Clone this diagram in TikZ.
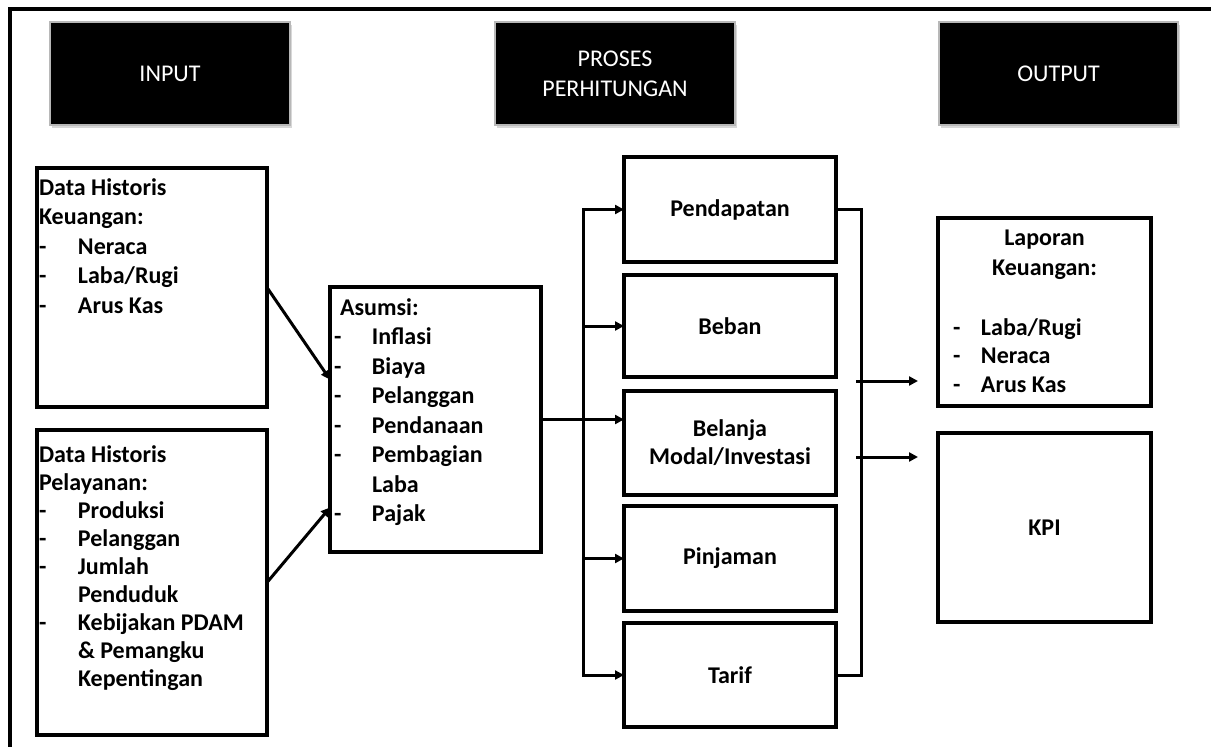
\documentclass[tikz,border=0pt]{standalone}
\usepackage{fontspec}
\setmainfont{Carlito}
\usetikzlibrary{arrows.meta,shadows,calc}

% list helpers: a dash in a fixed-width slot, and an indented continuation line
\newcommand\dashitem[2][39pt]{\makebox[#1][l]{-}#2}
\newcommand\contitem[2][39pt]{\hspace*{#1}#2}

\tikzset{
  x=1pt, y=-1pt,
  hdr/.style={draw=white!72!black, line width=1.2pt, fill=black, text=white,
    anchor=north west, align=center, inner sep=0pt, outer sep=0pt,
    font=\fontsize{24}{30}\selectfont,
    drop shadow={shadow xshift=1.5pt, shadow yshift=-3pt, opacity=0.3}},
  box/.style={draw=black, line width=3.4pt, fill=white, anchor=north west,
    inner sep=0pt, outer sep=0pt, align=center,
    font=\bfseries\fontsize{24}{28}\selectfont},
  txt/.style={anchor=base west, inner sep=0pt, outer sep=0pt},
  arr/.style={line width=3pt, -{Triangle[length=9pt,width=9pt]}},
  ln/.style={line width=3pt},
}

\begin{document}
\begin{tikzpicture}
\useasboundingbox (0,0) rectangle (1211,747);
\fill[white] (0,0) rectangle (1211,747);

% outer frame (top and left edges)
\draw[line width=4pt] (10,747) -- (10,9) -- (1211,9);

% column headers
\node[hdr, minimum width=240pt, minimum height=103pt] (hin)  at (50,22)  {INPUT};
\node[hdr, minimum width=240pt, minimum height=103pt] (hpro) at (495,22) {PROSES\\PERHITUNGAN};
\node[hdr, minimum width=239pt, minimum height=103pt] (hout) at (939,22) {OUTPUT};

% input boxes
\node[box, minimum width=230pt, minimum height=239pt] (histk) at (37,168) {};
\node[box, minimum width=230pt, minimum height=305pt] (histp) at (37,430) {};
\node[txt, font=\bfseries\fontsize{24}{29.5}\selectfont] (histkt) at (39,195) {%
  \begin{tabular}[t]{@{}l@{}}
  Data Historis\\
  Keuangan:\\
  \dashitem{Neraca}\\
  \dashitem{Laba/Rugi}\\
  \dashitem{Arus Kas}
  \end{tabular}};
\node[txt, font=\bfseries\fontsize{24}{28.1}\selectfont] (histpt) at (39,462) {%
  \begin{tabular}[t]{@{}l@{}}
  Data Historis\\
  Pelayanan:\\
  \dashitem{Produksi}\\
  \dashitem{Pelanggan}\\
  \dashitem{Jumlah}\\
  \contitem{Penduduk}\\
  \dashitem{Kebijakan PDAM}\\
  \contitem{\& Pemangku}\\
  \contitem{Kepentingan}
  \end{tabular}};

% assumptions
\node[box, minimum width=211pt, minimum height=265pt] (asumsi) at (330,287) {};
\node[txt, font=\bfseries\fontsize{24}{29.5}\selectfont] (asumsit) at (334,315) {%
  \begin{tabular}[t]{@{}l@{}}
  \hspace*{6pt}Asumsi:\\
  \dashitem[38pt]{Inflasi}\\
  \dashitem[38pt]{Biaya}\\
  \dashitem[38pt]{Pelanggan}\\
  \dashitem[38pt]{Pendanaan}\\
  \dashitem[38pt]{Pembagian}\\
  \contitem[38pt]{Laba}\\
  \dashitem[38pt]{Pajak}
  \end{tabular}};

% calculation blocks
\node[box, minimum width=212pt, minimum height=105pt] (pend)    at (624,157) {Pendapatan};
\node[box, minimum width=212pt, minimum height=102pt] (beban)   at (624,275) {Beban};
\node[box, minimum width=212pt, minimum height=104pt] (belanja) at (624,391) {Belanja\\Modal/Investasi};
\node[box, minimum width=212pt, minimum height=105pt] (pinj)    at (624,506) {Pinjaman};
\node[box, minimum width=212pt, minimum height=104pt] (tarif)   at (624,623) {Tarif};

% outputs
\node[box, minimum width=213pt, minimum height=188pt] (lap) at (938,218) {};
\node[txt, anchor=base, font=\bfseries\fontsize{24}{30}\selectfont] (lapt) at (1044.5,245)
  {\begin{tabular}[t]{@{}c@{}}Laporan\\Keuangan:\end{tabular}};
\node[txt, font=\bfseries\fontsize{24}{28.5}\selectfont] (lapl) at (953,335) {%
  \begin{tabular}[t]{@{}l@{}}
  \dashitem[28pt]{Laba/Rugi}\\
  \dashitem[28pt]{Neraca}\\
  \dashitem[28pt]{Arus Kas}
  \end{tabular}};
\node[box, minimum width=213pt, minimum height=189pt] (kpi) at (938,433) {KPI};

% connectors: inputs into assumptions
\draw[arr] (histk.east) -- ($(asumsi.west)+(0,-40)$);
\draw[arr] (histp.east) -- ($(asumsi.west)+(0,88)$);

% distribution bus into the calculation blocks
\coordinate (busl) at (583,0);
\coordinate (busr) at (861,0);
\draw[arr] (asumsi.east) -- (asumsi.east -| belanja.west);
\draw[arr, line join=miter] (asumsi.east -| busl) |- (pend.west);
\draw[arr, line join=miter] (asumsi.east -| busl) |- (tarif.west);
\draw[arr] (beban.west -| busl) -- (beban.west);
\draw[arr] (pinj.west -| busl) -- (pinj.west);

% collecting bus out of the calculation blocks
\draw[ln, line join=miter] (pend.east) -- (pend.east -| busr) -- (tarif.east -| busr) -- (tarif.east);
\coordinate (lapin) at ($(lap.south west)+(-20,-25)$);
\coordinate (kpiin) at ($(kpi.north west)+(-20,24)$);
\draw[arr] ($(busr |- lapin)+(-5,0)$) -- (lapin);
\draw[arr] ($(busr |- kpiin)+(-5,0)$) -- (kpiin);
\end{tikzpicture}
\end{document}
